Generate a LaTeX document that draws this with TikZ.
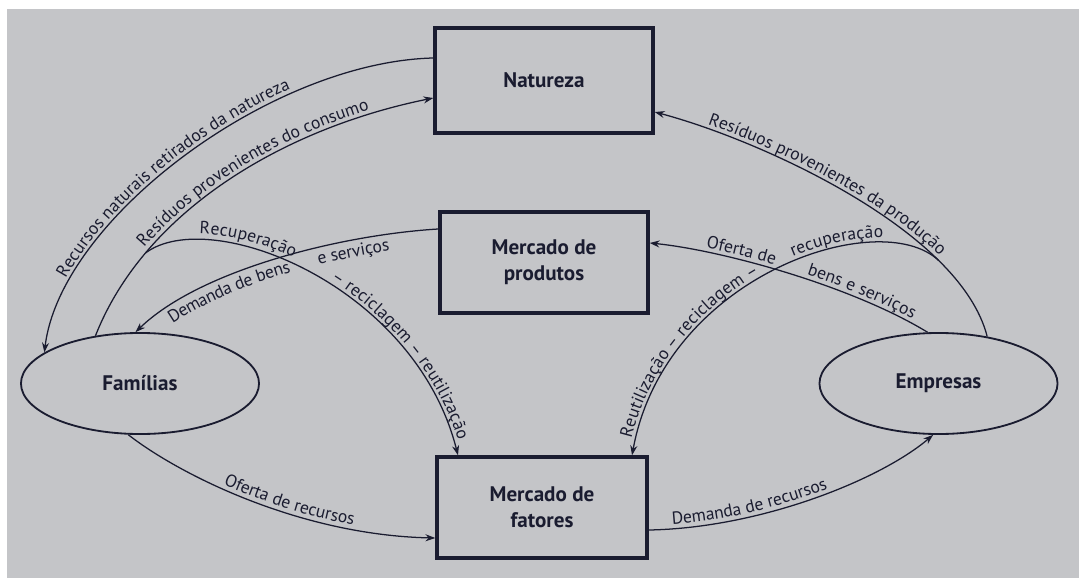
\documentclass[tikz,border=0pt]{standalone}
\usepackage{fontspec}
\setmainfont{PT Sans}
\usetikzlibrary{shapes.geometric, arrows.meta, decorations.text}
\definecolor{ink}{RGB}{26,28,48}
\definecolor{paper}{RGB}{196,197,200}
\newcommand\lblfont{\fontsize{12.5}{14}\selectfont}
\tikzset{
  mktbox/.style={rectangle, draw=ink, line width=2.4pt, text=ink,
    minimum width=5.25cm, minimum height=2.525cm, align=center,
    font=\fontsize{15}{18.5}\selectfont\bfseries},
  agent/.style={ellipse, draw=ink, line width=1.3pt, text=ink,
    minimum width=5.95cm, minimum height=2.525cm, inner sep=0pt,
    font=\fontsize{15}{18}\selectfont\bfseries},
  flow/.style={-{Stealth[length=7pt,width=5pt]}, line width=0.9pt, color=ink},
  lbl/.style n args={3}{postaction={decorate, decoration={text along path,
    raise=#2, text align={left indent=#1}, text={|\lblfont\color{ink}|#3}}}}
}
\begin{document}
\begin{tikzpicture}[x=0.025cm, y=-0.025cm]
  \useasboundingbox (0,0) rectangle (1079,578);
  \fill[paper] (7,9) rectangle (1079,578);

  % caixas e agentes
  \node[mktbox, minimum width=5.45cm, minimum height=2.625cm] (nat) at (544,80.5) {Natureza};
  \node[mktbox, minimum width=5.2cm] (prod) at (544,262.5) {Mercado de\\produtos};
  \node[mktbox] (fat) at (542,507.5) {Mercado de\\fatores};
  \node[agent] (fam) at (140,383.5) {Famílias};
  \node[agent] (emp) at (938.5,383.5) {Empresas};

  % lado das familias
  \draw[flow] ([yshift=0.5625cm]nat.west) .. controls (270,62) and (60,220) .. (fam.162);
  \path[lbl={1.9cm}{3pt}{Recursos naturais retirados da natureza}]
    (fam.162) .. controls (60,220) and (270,62) .. ([yshift=0.5625cm]nat.west);

  \draw[flow, lbl={2.5cm}{3pt}{Resíduos provenientes do consumo}]
    (fam.133) .. controls (145,210) and (285,128) .. ([yshift=-0.4375cm]nat.west)
    coordinate[pos=0.24] (recL);

  \draw[flow, lbl={1.4cm}{4pt}{Recuperação}, lbl={4.85cm}{3pt}{– reciclagem – reutilização}]
    (recL) .. controls (210,205) and (415,285) .. ([xshift=-2.1cm]fat.north);

  \draw[flow] ([yshift=0.8375cm]prod.west) .. controls (340,235) and (200,270) .. (fam.95);
  \path[lbl={0.9cm}{-12pt}{Demanda de bens}, lbl={5cm}{-12pt}{e serviços}]
    (fam.95) .. controls (200,270) and (340,235) .. ([yshift=0.8375cm]prod.west);

  \draw[flow, lbl={2.7cm}{3pt}{Oferta de recursos}]
    (fam.257) .. controls (180,475) and (300,535) .. ([yshift=-0.7625cm]fat.west);

  % lado das empresas
  \draw[flow, lbl={0.6cm}{3pt}{Demanda de recursos}]
    ([yshift=-0.5625cm]fat.east) .. controls (760,528) and (880,480) .. (emp.264);

  \draw[flow] (emp.44) .. controls (960,230) and (760,140) .. ([yshift=-0.7875cm]nat.east)
    coordinate[pos=0.25] (recR);
  \path[lbl={1.35cm}{3pt}{Resíduos provenientes da produção}]
    ([yshift=-0.7875cm]nat.east) .. controls (760,140) and (960,230) .. (emp.44);

  \draw[flow] (emp.102) .. controls (850,285) and (720,250) .. ([yshift=0.4875cm]prod.east);
  \path[lbl={1.4cm}{3pt}{Oferta de}, lbl={4cm}{3pt}{bens e serviços}]
    ([yshift=0.4875cm]prod.east) .. controls (720,250) and (850,285) .. (emp.102);

  \draw[flow] (recR) .. controls (880,205) and (665,275) .. ([xshift=2.25cm]fat.north);
  \path[lbl={0.4cm}{3pt}{Reutilização – reciclagem –}, lbl={6.6cm}{3pt}{recuperação}]
    ([xshift=2.25cm]fat.north) .. controls (665,275) and (880,205) .. (recR);
\end{tikzpicture}
\end{document}
